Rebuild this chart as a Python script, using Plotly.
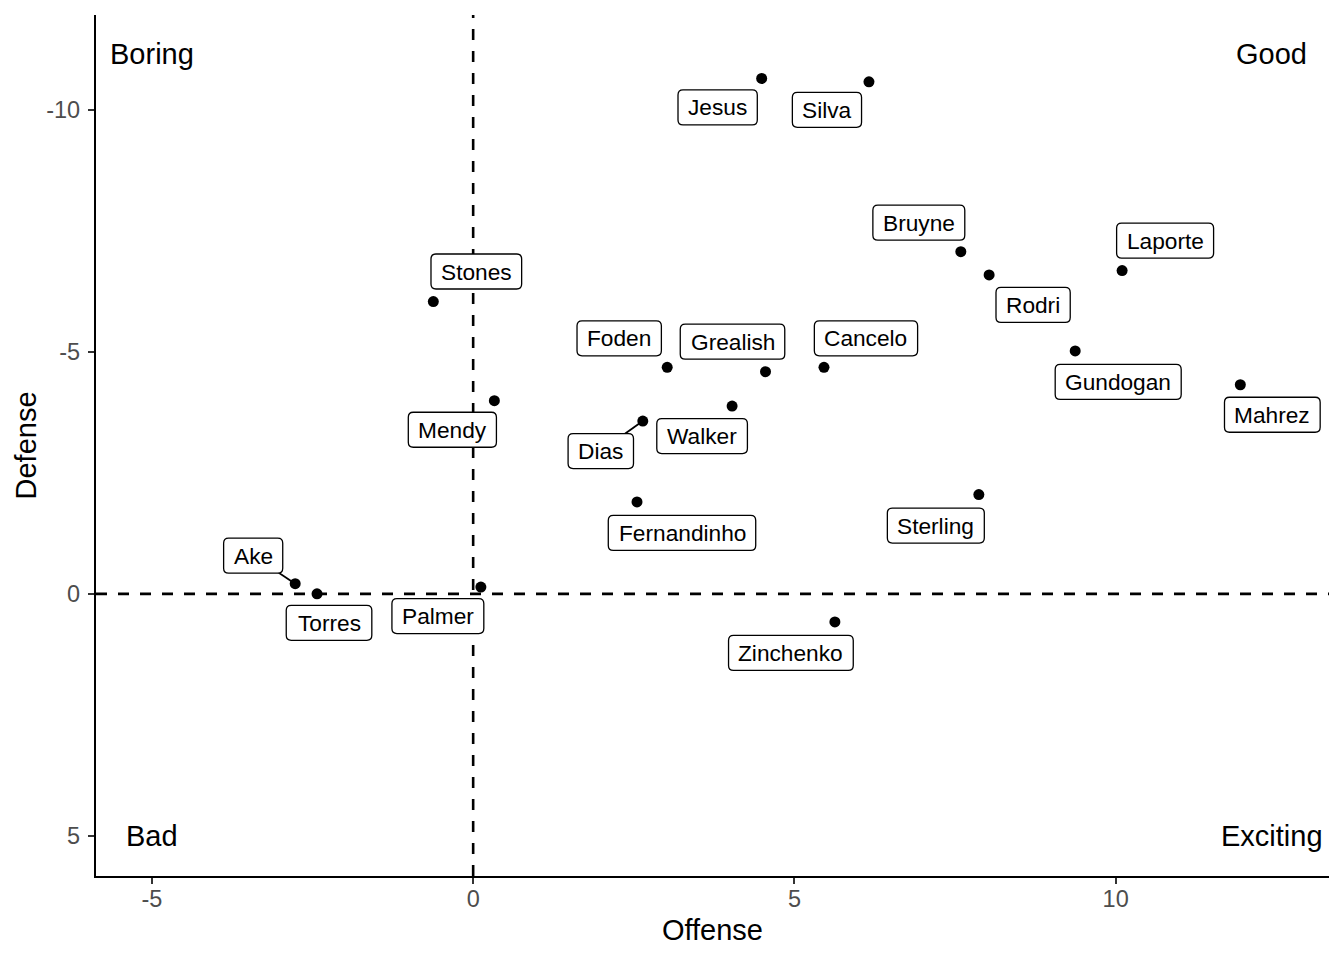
import plotly.graph_objects as go

# ---------------- data ----------------
players = ["Jesus", "Silva", "Bruyne", "Rodri", "Laporte", "Gundogan", "Mahrez",
           "Stones", "Mendy", "Foden", "Grealish", "Cancelo", "Walker", "Dias",
           "Fernandinho", "Sterling", "Ake", "Torres", "Palmer", "Zinchenko"]
offense = [4.49, 6.16, 7.59, 8.03, 10.10, 9.37, 11.94,
           -0.62, 0.33, 3.02, 4.55, 5.46, 4.03, 2.64,
           2.55, 7.87, -2.77, -2.43, 0.12, 5.63]
defense = [-10.65, -10.58, -7.07, -6.59, -6.68, -5.02, -4.32,
           -6.04, -3.99, -4.68, -4.59, -4.68, -3.88, -3.57,
           -1.90, -2.05, -0.21, 0.00, -0.14, 0.58]

quad_text = ["Boring", "Good", "Bad", "Exciting"]
quad_x = [-5, 12.43, -5, 12.43]
quad_y = [-11.15, -11.15, 5, 5]

x_ticks = [-5, 0, 5, 10]
x_tick_text = ["-5", "0", "5", "10"]
y_ticks = [-10, -5, 0, 5]
y_tick_text = ["-10", "-5", "0", "5"]

# ---------------- label placement (pixels: right, down) ----------------
label_offsets = {
    "Jesus": (-44, 29), "Silva": (-42, 28), "Bruyne": (-42, -29), "Rodri": (44, 30),
    "Laporte": (43, -30), "Gundogan": (43, 31), "Mahrez": (32, 30), "Stones": (43, -30),
    "Mendy": (-42, 29), "Foden": (-48, -29), "Grealish": (-33, -30), "Cancelo": (42, -29),
    "Walker": (-30, 30), "Dias": (-42, 30), "Fernandinho": (45, 31), "Sterling": (-43, 31),
    "Ake": (-42, -28), "Torres": (12, 29), "Palmer": (-43, 29), "Zinchenko": (-44, 31),
}
with_segment = {"Ake", "Dias"}

FONT = "Liberation Sans, Arial, Helvetica, sans-serif"
LABEL_SIZE = 22.7
PAD_X = 10
BOX_H = 35
RADIUS = 5

# Arial / Liberation Sans advance widths (1/1000 em)
CHAR_W = {
    "A": 667, "B": 667, "C": 722, "D": 722, "F": 611, "G": 778, "J": 500, "L": 556,
    "M": 833, "P": 667, "R": 722, "S": 667, "T": 611, "W": 944, "Z": 611,
    "a": 556, "b": 556, "c": 500, "d": 556, "e": 556, "g": 556, "h": 556, "i": 222,
    "k": 500, "l": 222, "m": 833, "n": 556, "o": 556, "p": 556, "r": 333, "s": 500,
    "t": 278, "u": 556, "v": 500, "y": 500, "z": 500,
}


def text_width(s, size):
    return sum(CHAR_W.get(c, 556) for c in s) / 1000.0 * size


def rounded_rect(cx, cy, w, h, r):
    a, b = w / 2.0, h / 2.0
    x0, x1, y0, y1 = cx - a, cx + a, cy - b, cy + b
    return (f"M{x0 + r},{y0} L{x1 - r},{y0} Q{x1},{y0} {x1},{y0 + r} "
            f"L{x1},{y1 - r} Q{x1},{y1} {x1 - r},{y1} "
            f"L{x0 + r},{y1} Q{x0},{y1} {x0},{y1 - r} "
            f"L{x0},{y0 + r} Q{x0},{y0} {x0 + r},{y0} Z")


fig = go.Figure()

fig.add_trace(go.Scatter(
    x=offense, y=defense, mode="markers",
    marker=dict(size=11, color="black", line=dict(width=0)),
    hoverinfo="text", text=players,
))

shapes = [
    dict(type="line", xref="paper", yref="y", x0=0, x1=1, y0=0, y1=0,
         line=dict(color="black", width=2.6, dash="11px,11px"), layer="below"),
    dict(type="line", xref="x", yref="paper", x0=0, x1=0, y0=0, y1=1,
         line=dict(color="black", width=2.6, dash="11px,11px"), layer="below"),
]

annotations = []
for name, xv, yv in zip(players, offense, defense):
    dx, dy_down = label_offsets[name]
    dy = -dy_down  # pixel shapes/shift: positive is up
    w = text_width(name, LABEL_SIZE) + 2 * PAD_X
    if name in with_segment:
        shapes.append(dict(type="line", xref="x", yref="y",
                           xsizemode="pixel", ysizemode="pixel",
                           xanchor=xv, yanchor=yv, x0=0, y0=0, x1=dx, y1=dy,
                           line=dict(color="black", width=1.8)))
    shapes.append(dict(type="path", xref="x", yref="y",
                       xsizemode="pixel", ysizemode="pixel",
                       xanchor=xv, yanchor=yv,
                       path=rounded_rect(dx, dy, w, BOX_H, RADIUS),
                       fillcolor="white", line=dict(color="black", width=1.3)))
    annotations.append(dict(
        x=xv, y=yv, xref="x", yref="y", text=name, showarrow=False,
        xshift=dx, yshift=dy, xanchor="center", yanchor="middle",
        font=dict(family=FONT, size=LABEL_SIZE, color="black"),
    ))

for t, xv, yv in zip(quad_text, quad_x, quad_y):
    annotations.append(dict(x=xv, y=yv, xref="x", yref="y", text=t, showarrow=False,
                            xanchor="center", yanchor="middle",
                            font=dict(family=FONT, size=29, color="black")))

axis_common = dict(
    showgrid=False, zeroline=False, showline=True, linecolor="black", linewidth=2.4,
    ticks="outside", ticklen=6, tickwidth=2.4, tickcolor="#333333",
    tickfont=dict(family=FONT, size=23.5, color="#4D4D4D"),
)

fig.update_layout(
    width=1336, height=952,
    margin=dict(l=88, r=15, t=7, b=84),
    plot_bgcolor="white", paper_bgcolor="white",
    showlegend=False,
    font=dict(family=FONT),
    shapes=shapes,
    annotations=annotations,
    xaxis=dict(range=[-5.87, 13.32], tickvals=x_ticks, ticktext=x_tick_text,
               ticklabelstandoff=-5, **axis_common,
               title=dict(text="Offense", font=dict(family=FONT, size=29, color="black"),
                          standoff=8)),
    yaxis=dict(range=[5.83, -11.96], tickvals=y_ticks, ticktext=y_tick_text,
               ticklabelstandoff=3, **axis_common,
               title=dict(text="Defense", font=dict(family=FONT, size=29, color="black"),
                          standoff=1)),
)

fig.write_html("out.html")
